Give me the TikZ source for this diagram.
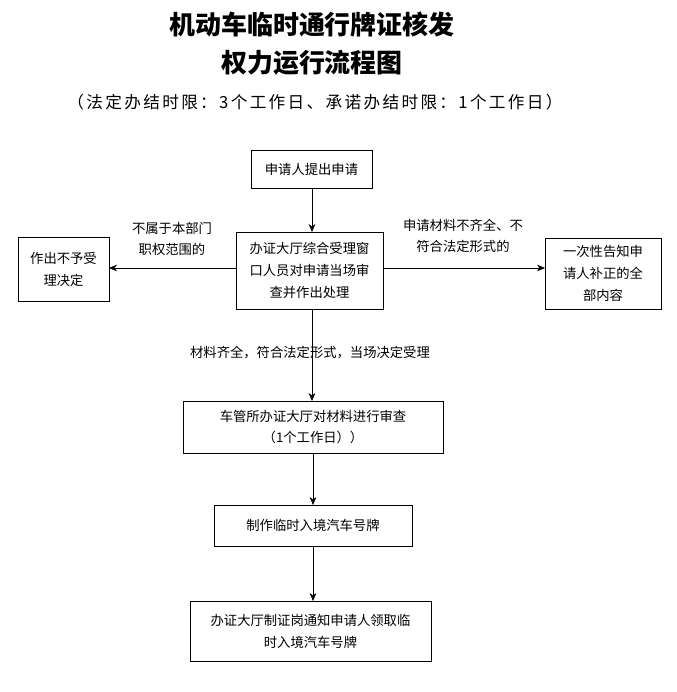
\documentclass[tikz,border=0pt]{standalone}
\usepackage{fontspec}
\setmainfont{Noto Sans CJK SC}
\usetikzlibrary{arrows.meta}

\begin{document}
\begin{tikzpicture}[x=0.0264cm, y=-0.0264cm,
  box/.style={rectangle, draw=none, align=center, font=\fontsize{10}{16.5}\selectfont, inner sep=2pt},
  lbl/.style={align=center, font=\fontsize{10}{16}\selectfont},
  arr/.style={-{Stealth[length=6pt,width=5pt]}}]
\useasboundingbox (0,0) rectangle (677,692);

\node[font=\fontsize{19.5}{28}\selectfont\bfseries] (t1) at (312,25) {机动车临时通行牌证核发};
\node[font=\fontsize{19.5}{28}\selectfont\bfseries] (t2) at (312,63) {权力运行流程图};
\node[font=\fontsize{12.5}{14}\selectfont\addfontfeature{LetterSpace=14}] (t3) at (315,102) {（法定办结时限：3个工作日、承诺办结时限：1个工作日）};

\node[box] (1) at (311.5,169) {申请人提出申请};
\draw (251,150) rectangle (372,188);
\node[box] (2) at (309.5,270.5) {办证大厅综合受理窗\\口人员对申请当场审\\查并作出处理};
\draw (236,232) rectangle (383,309);
\node[box] (3) at (63.5,269) {作出不予受\\理决定};
\draw (18,237) rectangle (109,301);
\node[box] (4) at (603,273.5) {一次性告知申\\请人补正的全\\部内容};
\draw (545,238) rectangle (661,309);
\node[box] (5) at (313,427) {车管所办证大厅对材料进行审查\\（1个工作日））};
\draw (183,401) rectangle (443,453);
\node[box] (6) at (313,525.5) {制作临时入境汽车号牌};
\draw (214,505) rectangle (412,546);
\node[box] (7) at (310.5,631) {办证大厅制证岗通知申请人领取临\\时入境汽车号牌};
\draw (190,601) rectangle (431,661);

\draw[arr] (312,188) -- (312,232);
\draw[arr] (236,268) -- (109,268);
\draw[arr] (383,268) -- (545,268);
\draw[arr] (312,309) -- (312,401);
\draw[arr] (313,453) -- (313,505);
\draw[arr] (313,546) -- (313,601);

\node[lbl] (l1) at (172,239) {不属于本部门\\职权范围的};
\node[lbl] (l2) at (463,236) {申请材料不齐全、不\\符合法定形式的};
\node[lbl] (l3) at (310,353) {材料齐全，符合法定形式，当场决定受理};
\end{tikzpicture}
\end{document}
